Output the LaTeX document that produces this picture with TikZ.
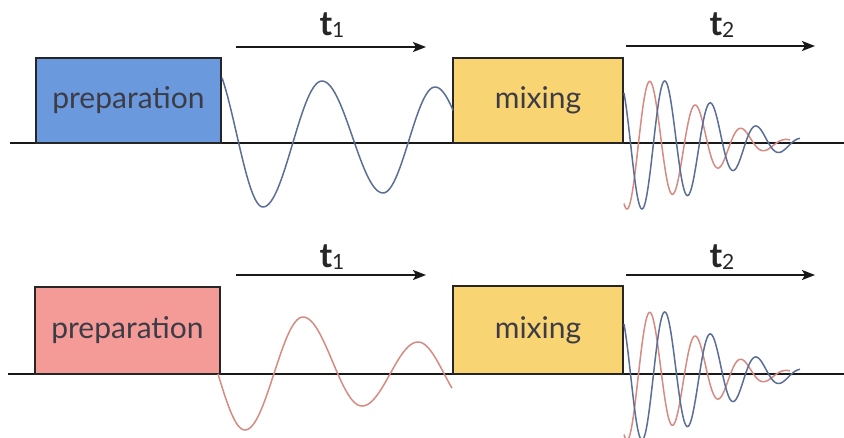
\documentclass[tikz,border=0pt]{standalone}
\usepackage{fontspec}
\setmainfont{Lato}
\usetikzlibrary{arrows.meta}
\definecolor{prepblue}{HTML}{6B99DE}
\definecolor{preppink}{HTML}{F49B98}
\definecolor{mixyellow}{HTML}{F9D473}
\definecolor{txtgray}{HTML}{3C3C46}
\definecolor{waveblue}{HTML}{5A6E96}
\definecolor{wavered}{HTML}{D68B82}
\def\hwv#1#2#3#4#5#6{plot[domain=#5:#6,samples=30] (\x,{(#2+#4)/2+(#2-#4)/2*cos(180/(#3-#1)*(\x-#1))})}
\def\hwc#1#2#3#4#5#6{-- plot[domain=#5:#6,samples=30] (\x,{(#2+#4)/2+(#2-#4)/2*cos(180/(#3-#1)*(\x-#1))})}
\begin{document}
\begin{tikzpicture}[x=1pt,y=-1pt,
  box/.style={draw=black!85, line width=1.5pt, rectangle, inner sep=0pt,
    font=\fontsize{30}{32}\selectfont, text=txtgray},
  base/.style={line width=2pt, draw=black!90},
  tarrow/.style={line width=2pt, draw=black!90, -{Stealth[length=13pt,width=10pt,inset=3pt]}},
  tlabel/.style={font=\bfseries\fontsize{34}{36}\selectfont, text=black!85, inner sep=0pt},
  bluewave/.style={draw=waveblue, line width=1.5pt, line join=round},
  redwave/.style={draw=wavered, line width=1.5pt, line join=round}]
\useasboundingbox (0,0) rectangle (844,437);
\fill[white] (0,0) rectangle (844,437);

% ---------- top row ----------
\coordinate (baseAl) at (10,143);
\coordinate (baseAr) at (844,143);
\draw[base] (baseAl) -- (baseAr);
\node[box, fill=prepblue, minimum width=185pt, minimum height=85pt] (prepA) at (128.5,100.5) {preparation};
\node[box, fill=mixyellow, minimum width=170pt, minimum height=85pt] (mixA) at (538,100.5) {mixing};
\coordinate (t1As) at (236,47);
\coordinate (t1Ae) at (426,47);
\draw[tarrow] (t1As) -- (t1Ae);
\node[tlabel] (t1A) at (332,25) {t\raisebox{-0.08em}{\mdseries\fontsize{21}{21}\selectfont 1}};
\coordinate (t2As) at (626,46);
\coordinate (t2Ae) at (815,46);
\draw[tarrow] (t2As) -- (t2Ae);
\node[tlabel] (t2A) at (722,25) {t\raisebox{-0.08em}{\mdseries\fontsize{21}{21}\selectfont 2}};
% t1 wave (blue)
\draw[bluewave] \hwv{210}{60}{263}{207}{222}{263} \hwc{263}{207}{322}{81}{263}{322}
  \hwc{322}{81}{383}{193}{322}{383} \hwc{383}{193}{435}{87}{383}{435}
  \hwc{435}{87}{492}{190}{435}{453};
% t2 FID
\draw[redwave] plot[domain=624:790,samples=300] (\x,{143-66*exp(0-((\x-625)/95)*((\x-625)/95))*cos(7.82609*(\x-650))});
\draw[bluewave] plot[domain=624:800,samples=300] (\x,{143-66*exp(0-((\x-640)/100)*((\x-640)/100))*cos(7.82609*(\x-665))});

% ---------- bottom row ----------
\coordinate (baseBl) at (8,374);
\coordinate (baseBr) at (844,374);
\draw[base] (baseBl) -- (baseBr);
\node[box, fill=preppink, minimum width=185pt, minimum height=87pt] (prepB) at (127.5,330.5) {preparation};
\node[box, fill=mixyellow, minimum width=170pt, minimum height=88pt] (mixB) at (538,330) {mixing};
\coordinate (t1Bs) at (236,275);
\coordinate (t1Be) at (426,275);
\draw[tarrow] (t1Bs) -- (t1Be);
\node[tlabel] (t1B) at (332,257) {t\raisebox{-0.08em}{\mdseries\fontsize{21}{21}\selectfont 1}};
\coordinate (t2Bs) at (626,275);
\coordinate (t2Be) at (815,275);
\draw[tarrow] (t2Bs) -- (t2Be);
\node[tlabel] (t2B) at (722,257) {t\raisebox{-0.08em}{\mdseries\fontsize{21}{21}\selectfont 2}};
% t1 wave (red)
\draw[redwave] \hwv{191}{318}{245}{430}{218}{245} \hwc{245}{430}{303}{317}{245}{303}
  \hwc{303}{317}{362}{406}{303}{362} \hwc{362}{406}{418}{342}{362}{418}
  \hwc{418}{342}{470}{405}{418}{452};
% t2 FID
\draw[redwave] plot[domain=624:790,samples=300] (\x,{374-66*exp(0-((\x-625)/95)*((\x-625)/95))*cos(7.82609*(\x-650))});
\draw[bluewave] plot[domain=624:800,samples=300] (\x,{374-66*exp(0-((\x-640)/100)*((\x-640)/100))*cos(7.82609*(\x-665))});
\end{tikzpicture}
\end{document}
